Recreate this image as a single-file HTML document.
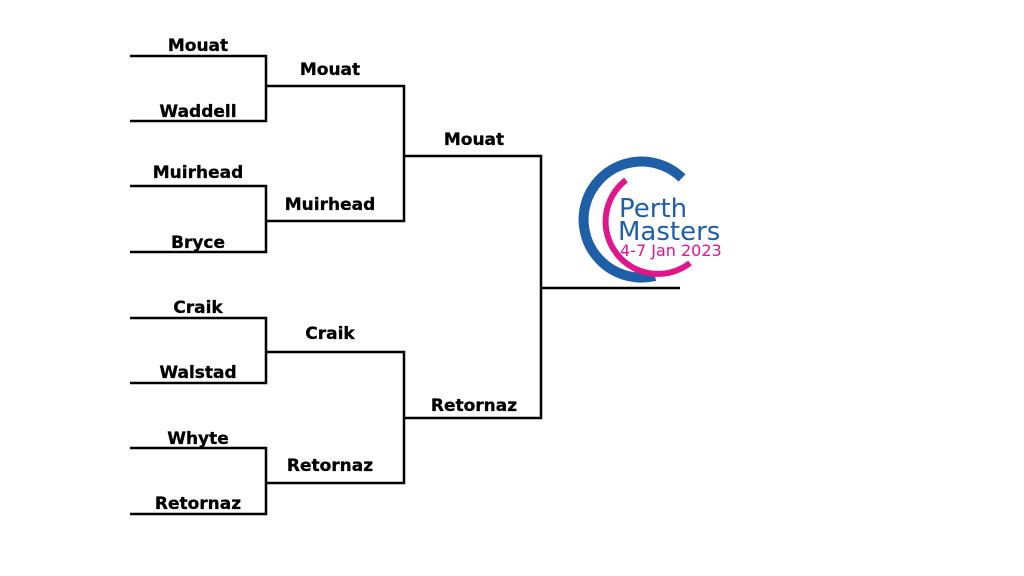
<!DOCTYPE html>
<html><head><meta charset="utf-8"><style>
html,body{margin:0;padding:0;background:#fff;width:1024px;height:576px;overflow:hidden}
text{font-family:"DejaVu Sans","Liberation Sans",sans-serif;font-weight:bold;font-size:17px;fill:#000}
</style></head><body>
<svg width="1024" height="576" viewBox="0 0 1024 576" xmlns="http://www.w3.org/2000/svg">
<g stroke="#000" stroke-width="2.5" fill="none">
<polyline points="130,56 266,56 266,121 130,121"/>
<polyline points="130,186 266,186 266,252 130,252"/>
<polyline points="130,318 266,318 266,383 130,383"/>
<polyline points="130,448 266,448 266,514 130,514"/>
<polyline points="266,86 404,86 404,221 266,221"/>
<polyline points="266,352 404,352 404,483 266,483"/>
<polyline points="404,156 541,156 541,418 404,418"/>
<line x1="541" y1="288" x2="680" y2="288"/>
</g>
<g text-anchor="middle" stroke="#000" stroke-width="0.3">
<text x="198" y="51">Mouat</text>
<text x="198" y="117">Waddell</text>
<text x="198" y="178">Muirhead</text>
<text x="198" y="248">Bryce</text>
<text x="198" y="313">Craik</text>
<text x="198" y="378">Walstad</text>
<text x="198" y="444">Whyte</text>
<text x="198" y="509">Retornaz</text>
<text x="330" y="75">Mouat</text>
<text x="330" y="210">Muirhead</text>
<text x="330" y="339">Craik</text>
<text x="330" y="471">Retornaz</text>
<text x="474" y="145">Mouat</text>
<text x="474" y="411">Retornaz</text>
</g>
<path d="M682,178 A58,58 0 1 0 655,276" stroke="#1f5fa8" stroke-width="10" fill="none"/>
<path d="M626,180 A48,48 0 0 0 690,263" stroke="#e0168c" stroke-width="6" fill="none"/>
<text x="619" y="217" style="font-weight:normal;font-size:26px;fill:#1f5fa8;stroke:none">Perth</text>
<text x="618" y="240" style="font-weight:normal;font-size:26px;fill:#1f5fa8;stroke:none">Masters</text>
<text x="620" y="256" style="font-weight:normal;font-size:16px;fill:#e0168c;stroke:none">4-7 Jan 2023</text>
</svg>
</body></html>
